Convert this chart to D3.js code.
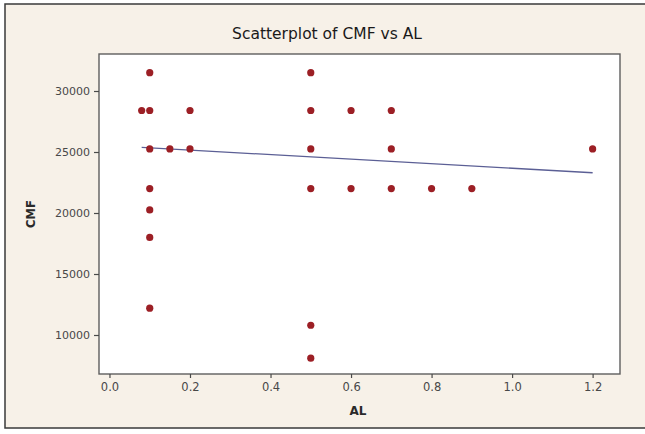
<!DOCTYPE html>
<html>
<head>
<meta charset="utf-8">
<script src="https://cdn.jsdelivr.net/npm/d3@7"></script>
<style>
  html, body { margin: 0; padding: 0; background: #ffffff; }
  svg { display: block; }
</style>
</head>
<body>
<svg id="chart" width="645" height="434"></svg>
<script>
// Observations: AL on the x axis, CMF on the y axis
const alValues = [0.08, 0.1, 0.1, 0.1, 0.1, 0.1, 0.1, 0.1, 0.15, 0.2, 0.2,
                  0.5, 0.5, 0.5, 0.5, 0.5, 0.5, 0.6, 0.6, 0.7, 0.7, 0.7, 0.8, 0.9, 1.2];
const cmfValues = [28400, 31500, 28400, 25250, 22000, 20250, 18000, 12200, 25250, 28400, 25250,
                   31500, 28400, 25250, 22000, 10800, 8100, 28400, 22000, 28400, 25250, 22000, 22000, 22000, 25250];

// Tick values for both axes
const xTicks = [0.0, 0.2, 0.4, 0.6, 0.8, 1.0, 1.2];
const yTicks = [10000, 15000, 20000, 25000, 30000];

// Fitted regression line: CMF = intercept + slope * AL
const fitIntercept = 25530;
const fitSlope = -1860;

const svg = d3.select("#chart");
const W = 645, H = 434;
const plot = { left: 99, right: 620, top: 54, bottom: 374 };

// Page background and outer frame
svg.append("rect").attr("x", 5).attr("y", 4).attr("width", W + 10).attr("height", 424)
  .attr("fill", "#f7f1e8").attr("stroke", "#3a3a3a").attr("stroke-width", 1.5);

const x = d3.scaleLinear().domain([-0.026, 1.268]).range([plot.left, plot.right]);
const y = d3.scaleLinear().domain([6803, 33033]).range([plot.bottom, plot.top]);

// Plot area
svg.append("rect")
  .attr("x", plot.left).attr("y", plot.top)
  .attr("width", plot.right - plot.left).attr("height", plot.bottom - plot.top)
  .attr("fill", "#ffffff").attr("stroke", "#5e5e5e").attr("stroke-width", 1.4);

const tickFont = "DejaVu Sans, Verdana, sans-serif";

// X axis
const xAxis = svg.append("g")
  .attr("transform", `translate(0,${plot.bottom})`)
  .call(d3.axisBottom(x).tickValues(xTicks).tickFormat(d3.format(".1f")).tickSize(4).tickSizeOuter(0));
xAxis.select(".domain").remove();
xAxis.selectAll("line").attr("stroke", "#4a4a4a").attr("stroke-width", 1.2);
xAxis.selectAll("text").attr("fill", "#484848").attr("font-family", tickFont)
  .attr("font-size", 11.5).attr("dy", "0.9em");

// Y axis
const yAxis = svg.append("g")
  .attr("transform", `translate(${plot.left},0)`)
  .call(d3.axisLeft(y).tickValues(yTicks).tickFormat(d3.format("d")).tickSize(5).tickSizeOuter(0));
yAxis.select(".domain").remove();
yAxis.selectAll("line").attr("stroke", "#4a4a4a").attr("stroke-width", 1.2);
yAxis.selectAll("text").attr("fill", "#484848").attr("font-family", tickFont)
  .attr("font-size", 11).attr("dx", "-0.1em");

// Title and axis labels
svg.append("text")
  .attr("x", 327).attr("y", 39)
  .attr("text-anchor", "middle")
  .attr("font-family", tickFont).attr("font-size", 15.5)
  .attr("fill", "#1a1a1a")
  .text("Scatterplot of CMF vs AL");

svg.append("text")
  .attr("x", 358).attr("y", 415)
  .attr("text-anchor", "middle")
  .attr("font-family", tickFont).attr("font-size", 12).attr("font-weight", "bold")
  .attr("fill", "#2a2a2a")
  .text("AL");

svg.append("text")
  .attr("transform", "translate(35,214) rotate(-90)")
  .attr("text-anchor", "middle")
  .attr("font-family", tickFont).attr("font-size", 11.5).attr("font-weight", "bold")
  .attr("fill", "#2a2a2a")
  .text("CMF");

// Regression line across the observed AL range
const [alMin, alMax] = d3.extent(alValues);
svg.append("line")
  .attr("x1", x(alMin)).attr("y1", y(fitIntercept + fitSlope * alMin))
  .attr("x2", x(alMax)).attr("y2", y(fitIntercept + fitSlope * alMax))
  .attr("stroke", "#5b5f95").attr("stroke-width", 1.3);

// Points
const points = alValues.map((a, i) => ({ al: a, cmf: cmfValues[i] }));
svg.append("g").selectAll("circle").data(points).join("circle")
  .attr("cx", d => x(d.al)).attr("cy", d => y(d.cmf))
  .attr("r", 3.6)
  .attr("fill", "#9c1f25");
</script>
</body>
</html>
